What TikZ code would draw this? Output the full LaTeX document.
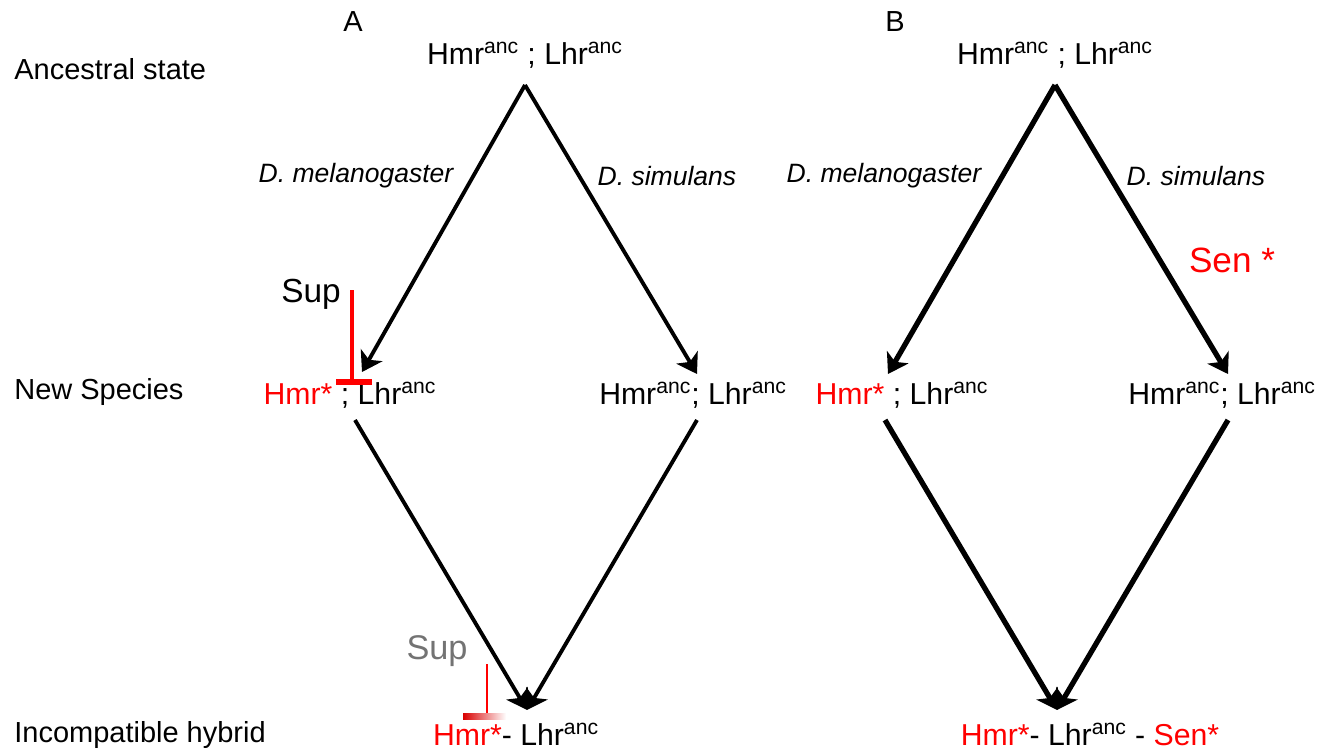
\documentclass[tikz,border=0pt]{standalone}
\usepackage{fontspec}
\setmainfont{Liberation Sans}
\usepackage{xcolor}
\usetikzlibrary{arrows.meta}
\usetikzlibrary{positioning}

\begin{document}
\begin{tikzpicture}[x=0.02cm,y=-0.02cm,
    txt/.style={font=\fontsize{16.5}{19}\selectfont, inner sep=0pt},
    gene/.style={font=\fontsize{17.2}{20}\selectfont, inner sep=0pt},
    species/.style={font=\fontsize{15.1}{18}\selectfont\itshape, inner sep=0pt},
    arrA/.style={line width=2.2pt,-{Stealth[length=11pt,width=14pt,inset=3pt]}},
    arrB/.style={line width=3pt,-{Stealth[length=11pt,width=14pt,inset=3pt]}},
    supbar/.style={red, line width=1.8pt}]

       \useasboundingbox (0,0) rectangle (1326,752);

       % row labels
       \node[txt,anchor=west] (anc) at (14,69) {Ancestral state};
       \node[txt,anchor=west] (new) at (14,392) {New Species};
       \node[txt,anchor=west] (hyb) at (14,735) {Incompatible hybrid};

       % panel A
       \node[txt] (A) at (353,22) {A};
       \node[gene] (topA) at (525,55) {Hmr\textsuperscript{anc} ; Lhr\textsuperscript{anc}};
       \node[gene] (leftA) at (350,395) {{\color{red}Hmr*} ; Lhr\textsuperscript{anc}};
       \node[gene] (rightA) at (693,395) {Hmr\textsuperscript{anc}; Lhr\textsuperscript{anc}};
       \node[gene] (botA) at (516,734) {{\color{red}Hmr*}- Lhr\textsuperscript{anc}};
       \node[species] (melA) at (356,176) {D. melanogaster};
       \node[species] (simA) at (667,176) {D. simulans};

       \coordinate (apexA) at (525,85);
       \coordinate (inA1) at (362,372);
       \coordinate (inA2) at (697,374);
       \coordinate (outA1) at (355,420);
       \coordinate (outA2) at (697,420);
       \coordinate (hybA) at (527,710);

       \draw[arrA] (apexA) -- (inA1);
       \draw[arrA] (apexA) -- (inA2);
       \draw[arrA] (outA1) -- (hybA);
       \draw[arrA] (outA2) -- (hybA);

       % suppressor on Hmr
       \node[txt,font=\fontsize{19}{22}\selectfont] (supA) at (311,294) {Sup};
       \coordinate (supA1) at (352,290);
       \coordinate (supA2) at (352,382);
       \draw[supbar] (supA1) -- (supA2);
       \draw[red, line width=3pt] (336,382) -- (372,382);

       % lost suppressor in hybrid
       \node[txt,text=black!55,font=\fontsize{19.5}{22}\selectfont] (supH) at (437,651) {Sup};
       \coordinate (supH1) at (487,664);
       \coordinate (supH2) at (487,714);
       \draw[red, line width=1.2pt] (supH1) -- (supH2);
       \shade[left color=red!85!black, right color=white] (463,713) rectangle (506,719);

       % panel B
       \node[txt] (B) at (895,22) {B};
       \node[gene] (topB) at (1055,55) {Hmr\textsuperscript{anc} ; Lhr\textsuperscript{anc}};
       \node[gene] (leftB) at (902,395) {{\color{red}Hmr*} ; Lhr\textsuperscript{anc}};
       \node[gene] (rightB) at (1222,395) {Hmr\textsuperscript{anc}; Lhr\textsuperscript{anc}};
       \node[gene] (botB) at (1090,734) {{\color{red}Hmr*}- Lhr\textsuperscript{anc} - {\color{red}Sen*}};
       \node[species] (melB) at (884,176) {D. melanogaster};
       \node[species] (simB) at (1196,176) {D. simulans};
       \node[txt,text=red,font=\fontsize{20}{23}\selectfont] (sen) at (1232,260) {Sen *};

       \coordinate (apexB) at (1055,85);
       \coordinate (inB1) at (888,374);
       \coordinate (inB2) at (1228,374);
       \coordinate (outB1) at (885,420);
       \coordinate (outB2) at (1228,420);
       \coordinate (hybB) at (1057,710);

       \draw[arrB] (apexB) -- (inB1);
       \draw[arrB] (apexB) -- (inB2);
       \draw[arrB] (outB1) -- (hybB);
       \draw[arrB] (outB2) -- (hybB);

\end{tikzpicture}
\end{document}
